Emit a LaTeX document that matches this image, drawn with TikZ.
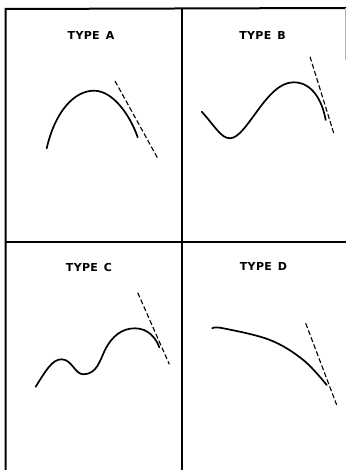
\documentclass[tikz,border=0pt]{standalone}
\usepackage{fontspec}
\setmainfont{DejaVu Sans}[LetterSpace=3]
\begin{document}
\begin{tikzpicture}[x=1pt,y=-1pt,
  frame/.style={line width=2pt,black},
  curve/.style={line width=1.7pt,black,line cap=round},
  tangent/.style={line width=1.1pt,black,dash pattern=on 5pt off 2.5pt},
  label/.style={font=\bfseries\fontsize{11}{12}\selectfont,inner sep=0pt}]
\useasboundingbox (0,0) rectangle (346,470);
% frame
\draw[frame] (5.5,470) -- (5.5,9) -- (346,8);
\draw[frame] (181.5,8.5) -- (181.5,470);
\draw[frame] (5.5,241.5) -- (346,241.5);
\draw[line width=0.6pt,gray!60] (344.8,8) -- (344.8,60);
% labels
\node[label] (ta) at (91,35) {TYPE\hspace{6pt}A};
\node[label] (tb) at (262.5,35) {TYPE\hspace{6pt}B};
\node[label] (tc) at (89,267) {TYPE\hspace{6pt}C};
\node[label] (td) at (263.5,266.5) {TYPE\hspace{6pt}D};
% type A
\draw[curve] (46.7,148.3) .. controls (55,112) and (74,90.5) .. (94.3,90.7)
  .. controls (113,91) and (130,115) .. (137.7,137.3);
\draw[tangent] (115,81) -- (157.7,158.3);
% type B
\draw[curve] (201.7,111.7) .. controls (214,125) and (221,138.5) .. (230,138.3)
  .. controls (247,138) and (266,82.5) .. (293.3,82.3)
  .. controls (312,82.2) and (322,100) .. (325.7,120);
\draw[tangent] (310,56.7) -- (334.3,135);
% type C
\draw[curve] (35.7,386.7) .. controls (45,372) and (52,359) .. (61.7,359.3)
  .. controls (72,359.6) and (75,374.3) .. (83.3,374.3)
  .. controls (97,374.3) and (100,360) .. (105,350)
  .. controls (112,336) and (122,328.3) .. (135,328.3)
  .. controls (148,328.3) and (156,338) .. (159.3,347.3);
\draw[tangent] (137.7,292.7) -- (169.3,364.3);
% type D
\draw[curve] plot[smooth,tension=0.6] coordinates {(212.3,328.3) (223.3,328.3) (270,340) (303.3,360) (326.7,385)};
\draw[tangent] (305.7,323.3) -- (336.7,405);
\end{tikzpicture}
\end{document}
